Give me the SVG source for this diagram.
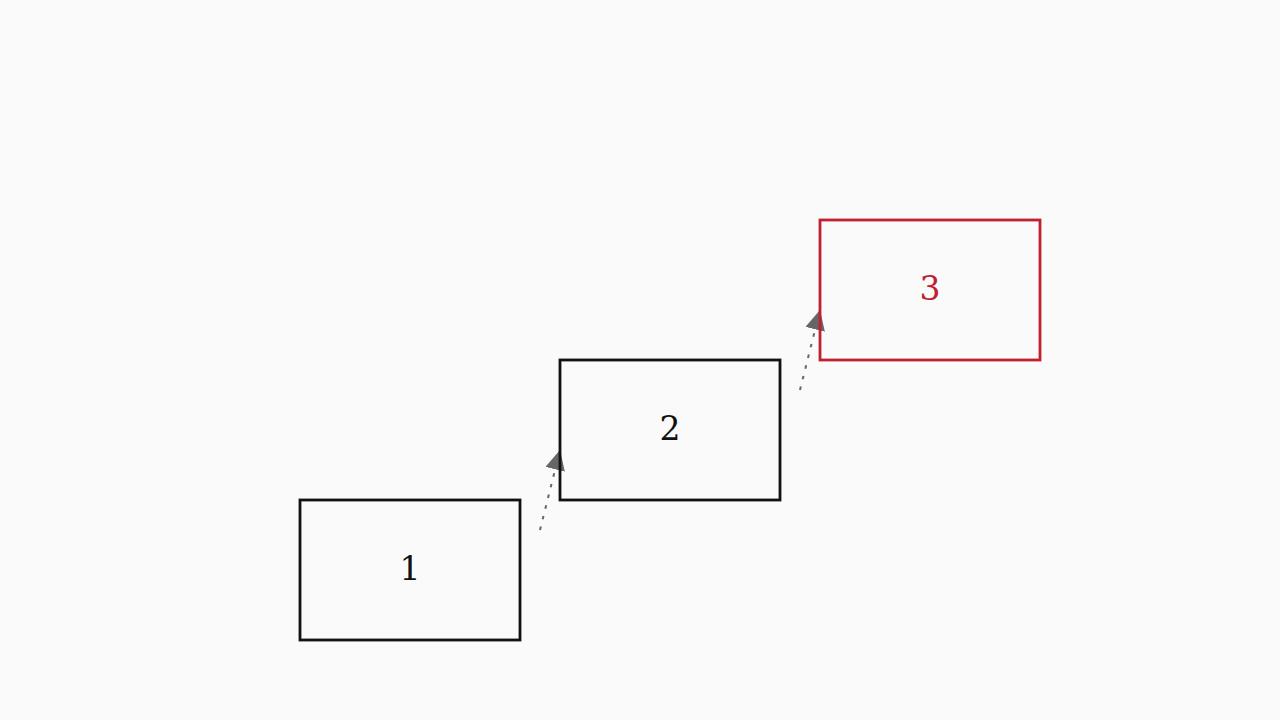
<svg xmlns="http://www.w3.org/2000/svg" width="1280" height="720" viewBox="0 0 1280 720">
<style>
.box{fill:none;stroke:#111;stroke-width:2.8}
.lbl{font-family:"DejaVu Serif",serif;font-size:33px;text-anchor:middle;fill:#111}
.conn{stroke:#666;stroke-width:2;stroke-dasharray:3.5,7.5;fill:none}
</style>
<defs>
<marker id="ah2" viewBox="0 0 20 20" refX="20" refY="10" markerWidth="20" markerHeight="20" orient="auto" markerUnits="userSpaceOnUse">
<path d="M0,0 L20,10 L0,20 z" fill="#666"/>
</marker>
</defs>
<rect width="1280" height="720" fill="#fafafa"/>
<g id="connectors">
<line class="conn" x1="540" y1="530" x2="560" y2="450" marker-end="url(#ah2)"/>
<line class="conn" x1="800" y1="390" x2="820" y2="310" marker-end="url(#ah2)"/>
</g>
<g id="node1">
<rect class="box" x="300" y="500" width="220" height="140"/>
<text class="lbl" x="410" y="580">1</text>
</g>
<g id="node2">
<rect class="box" x="560" y="360" width="220" height="140"/>
<text class="lbl" x="670" y="440">2</text>
</g>
<g id="node3">
<rect class="box" x="820" y="220" width="220" height="140" style="stroke:#c0202f"/>
<text class="lbl" x="930" y="300" style="fill:#c0202f">3</text>
</g>
</svg>
